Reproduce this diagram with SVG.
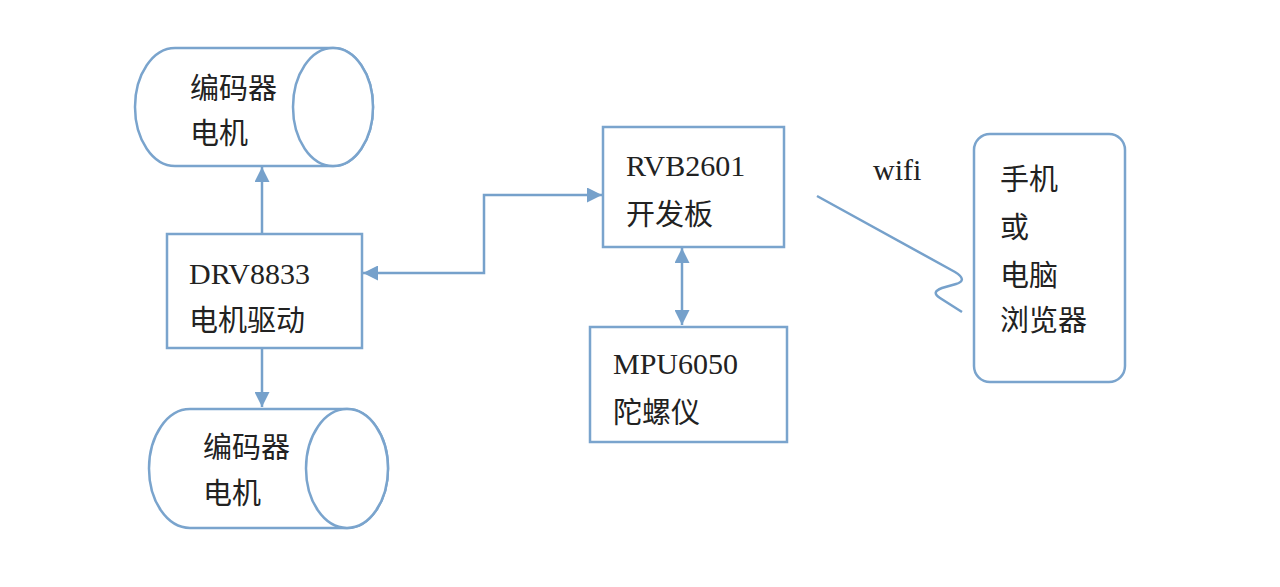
<svg xmlns="http://www.w3.org/2000/svg" width="1280" height="587" viewBox="0 0 1280 587">
<defs>
<marker id="ah" viewBox="0 0 10 10" refX="10" refY="5" markerWidth="6" markerHeight="6" orient="auto-start-reverse" markerUnits="strokeWidth">
<path d="M0,0 L10,5 L0,10 Z" fill="#76a1cb"/>
</marker>
<style>
.s{fill:#fff;stroke:#7aa4cd;stroke-width:2.5}
.c{fill:none;stroke:#76a1cb;stroke-width:2.5}
.cn{font-family:"Noto Sans CJK SC","Noto Sans",sans-serif;font-size:29px;fill:#222}
.lt{font-family:"Liberation Serif","Noto Sans CJK SC",serif;font-size:30px;fill:#222}
</style>
</defs>
<rect width="1280" height="587" fill="#fff"/>
<g id="connectors">
<line class="c" x1="262" y1="234" x2="262" y2="167" marker-end="url(#ah)"/>
<line class="c" x1="262" y1="348" x2="262" y2="407" marker-end="url(#ah)"/>
<polyline class="c" points="363,273 484,273 484,195 602,195" marker-start="url(#ah)" marker-end="url(#ah)"/>
<line class="c" x1="682" y1="248" x2="682" y2="325" marker-start="url(#ah)" marker-end="url(#ah)"/>
<path class="c" d="M817,196 L955,272 C965,278 963,282 956,284 L942,288 C934,291 934,294 940,298 L962,312"/>
</g>
<g id="motor-top">
<path class="s" d="M175,48 L333,48 A40,59 0 0 1 333,166 L175,166 A40,59 0 0 1 175,48 Z"/>
<ellipse class="s" cx="333" cy="107" rx="40" ry="59"/>
<text class="cn" x="190" y="99">编码器</text>
<text class="cn" x="190" y="144">电机</text>
</g>
<g id="motor-bottom">
<path class="s" d="M190,409 L347,409 A41,59.5 0 0 1 347,528 L190,528 A41,59.5 0 0 1 190,409 Z"/>
<ellipse class="s" cx="347" cy="468.5" rx="41" ry="59.5"/>
<text class="cn" x="203" y="458">编码器</text>
<text class="cn" x="203" y="504">电机</text>
</g>
<g id="drv">
<rect class="s" x="167" y="234" width="195" height="114"/>
<text class="lt" x="189" y="284">DRV8833</text>
<text class="cn" x="189" y="331">电机驱动</text>
</g>
<g id="rvb">
<rect class="s" x="603" y="127" width="181" height="120"/>
<text class="lt" x="626" y="176">RVB2601</text>
<text class="cn" x="626" y="225">开发板</text>
</g>
<g id="mpu">
<rect class="s" x="590" y="327" width="197" height="115"/>
<text class="lt" x="613" y="374">MPU6050</text>
<text class="cn" x="613" y="423">陀螺仪</text>
</g>
<g id="client">
<rect class="s" x="974" y="134" width="151" height="248" rx="16"/>
<text class="cn" x="1000" y="190">手机</text>
<text class="cn" x="1000" y="238">或</text>
<text class="cn" x="1000" y="286">电脑</text>
<text class="cn" x="1000" y="331">浏览器</text>
</g>
<g id="wifi-label">
<text class="lt" x="873" y="180" font-size="26">wifi</text>
</g>
</svg>
